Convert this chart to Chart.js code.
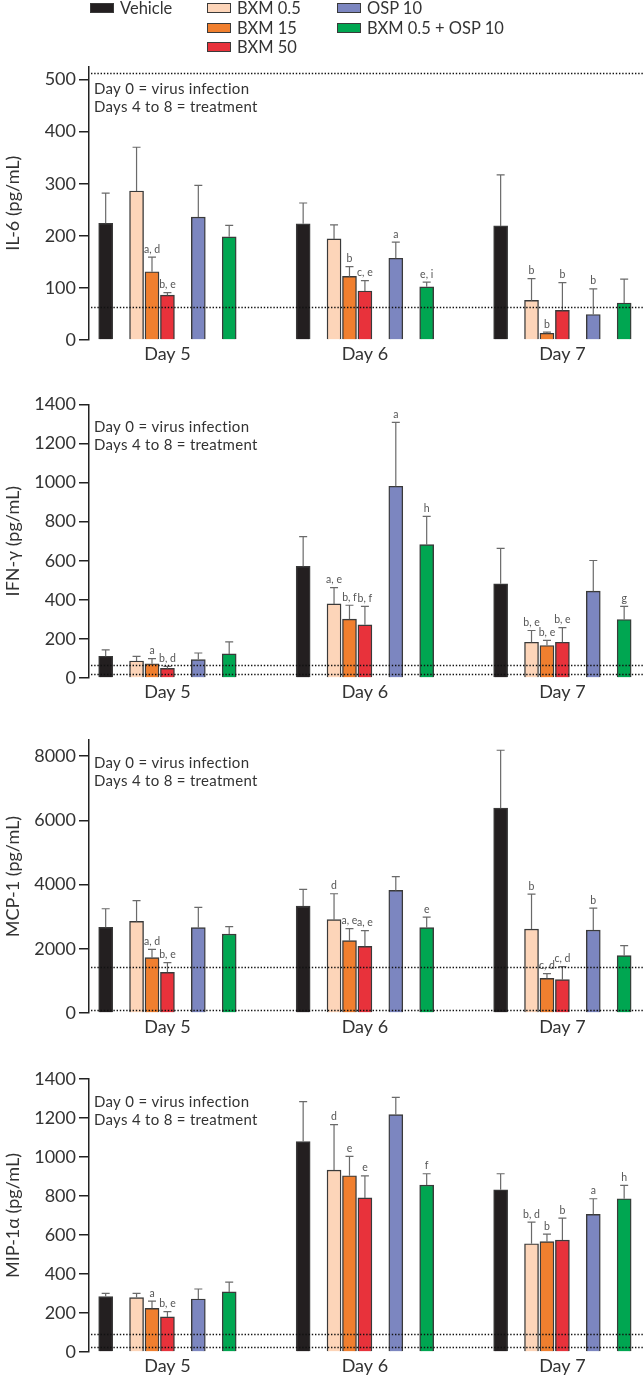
<!DOCTYPE html>
<html>
<head>
<meta charset="utf-8">
<script src="https://cdn.jsdelivr.net/npm/chart.js@4.4.1/dist/chart.umd.min.js"></script>
<style>
  html, body { margin: 0; padding: 0; background: #fff; }
  body { width: 644px; height: 1381px; position: relative; overflow: hidden; font-family: Lato, "Open Sans", sans-serif; }
  canvas.panel { position: absolute; left: 0; }
  #legend { position: absolute; left: 0; top: 0; width: 644px; height: 60px; z-index: 2; }
  .lg-item { position: absolute; height: 20px; display: flex; align-items: center; color: #333; font-size: 16.5px; white-space: nowrap; }
  .lg-box { width: 24px; height: 10px; box-sizing: border-box; border: 1.5px solid #3a3a3a; margin-right: 6px; }
</style>
</head>
<body>
<div id="legend"></div>
<canvas class="panel" id="p0" width="644" height="316" style="top:50px"></canvas>
<canvas class="panel" id="p1" width="644" height="320" style="top:384px"></canvas>
<canvas class="panel" id="p2" width="644" height="319" style="top:720px"></canvas>
<canvas class="panel" id="p3" width="644" height="319" style="top:1059px"></canvas>
<script>
// ---------------- DATA ----------------
const treatments = ['Vehicle', 'BXM 0.5', 'BXM 15', 'BXM 50', 'OSP 10', 'BXM 0.5 + OSP 10'];
const days = ['Day 5', 'Day 6', 'Day 7'];
const noteLines = ['Day 0 = virus infection', 'Days 4 to 8 = treatment'];

// rows = treatments, columns = days
const il6Mean = [[224, 223, 219], [286, 194, 76], [131, 122, 13], [86, 94, 57], [236, 157, 49], [198, 102, 71]];
const il6Err  = [[58, 40, 98], [84, 27, 42], [28, 19, 2], [5, 20, 53], [61, 31, 49], [22, 9, 46]];
const il6Sig  = [['', '', ''], ['', '', 'b'], ['a, d', 'b', 'b'], ['b, e', 'c, e', 'b'], ['', 'a', 'b'], ['', 'e, i', '']];
const il6Ref  = [512, 64];
const il6Ticks = [0, 100, 200, 300, 400, 500];

const ifnMean = [[111, 571, 482], [87, 379, 183], [73, 301, 166], [49, 272, 183], [94, 981, 444], [123, 682, 299]];
const ifnErr  = [[33, 152, 181], [24, 83, 60], [26, 71, 26], [10, 94, 75], [34, 327, 157], [62, 145, 67]];
const ifnSig  = [['', '', ''], ['', 'a, e', 'b, e'], ['a', 'b, f', 'b, e'], ['b, d', 'b, f', 'b, e'], ['', 'a', ''], ['', 'h', 'g']];
const ifnRef  = [68, 22];
const ifnTicks = [0, 200, 400, 600, 800, 1000, 1200, 1400];

const mcpMean = [[2666, 3328, 6377], [2852, 2905, 2613], [1723, 2252, 1079], [1266, 2075, 1038], [2656, 3816, 2582], [2457, 2656, 1785]];
const mcpErr  = [[580, 520, 1804], [644, 808, 1088], [258, 373, 146], [300, 487, 405], [632, 427, 684], [230, 330, 311]];
const mcpSig  = [['', '', ''], ['', 'd', 'b'], ['a, d', 'a, e', 'c, d'], ['b, e', 'a, e', 'c, d'], ['', '', 'b'], ['', 'e', '']];
const mcpRef  = [1430, 100];
const mcpTicks = [0, 2000, 4000, 6000, 8000];

const mipMean = [[284, 1079, 832], [279, 933, 555], [224, 904, 566], [180, 790, 574], [272, 1217, 706], [308, 856, 786]];
const mipErr  = [[17, 205, 82], [22, 233, 111], [37, 99, 38], [27, 113, 113], [51, 89, 80], [50, 58, 69]];
const mipSig  = [['', '', ''], ['', 'd', 'b, d'], ['a', 'e', 'b'], ['b, e', 'e', 'b'], ['', '', 'a'], ['', 'f', 'h']];
const mipRef  = [92, 27];
const mipTicks = [0, 200, 400, 600, 800, 1000, 1200, 1400];

// ---------------- STYLE / LAYOUT ----------------
const colors = ['#231f20', '#fdd5b9', '#f07f2f', '#e8323b', '#7c86c0', '#00a651'];
const slot = [0, 2, 3, 4, 6, 8];      // bar slot inside a day group
const groupStep = 12.79;              // distance between day groups (in slots)
const groupCenter = 4;
const FONT = 'Lato, "Open Sans", sans-serif';
const TXT = '#333';

// legend (HTML, built from the arrays)
const legendPos = [[90, 8], [207, 8], [207, 27.5], [207, 47], [337, 8], [337, 27.5]];
const lg = document.getElementById('legend');
treatments.forEach((t, i) => {
  const d = document.createElement('div');
  d.className = 'lg-item';
  d.style.left = legendPos[i][0] + 'px';
  d.style.top = (legendPos[i][1] - 10) + 'px';
  d.innerHTML = '<span class="lg-box" style="background:' + colors[i] + '"></span><span>' + t + '</span>';
  lg.appendChild(d);
});

const extras = {
  id: 'extras',
  afterDatasetsDraw(chart, args, o) {
    const { ctx, chartArea, scales: { y } } = chart;
    ctx.save();
    // error bars + significance letters
    chart.data.datasets.forEach((ds, i) => {
      const meta = chart.getDatasetMeta(i);
      meta.data.forEach((bar, j) => {
        const v = ds.data[j].y;
        const e = o.errs[i][j];
        const yBar = y.getPixelForValue(v);
        const yCap = y.getPixelForValue(v + e);
        if (e > 0) {
          ctx.strokeStyle = '#6a6a6a';
          ctx.lineWidth = 1.2;
          ctx.beginPath();
          ctx.moveTo(bar.x, yBar);
          ctx.lineTo(bar.x, yCap);
          ctx.moveTo(bar.x - 4, yCap);
          ctx.lineTo(bar.x + 4, yCap);
          ctx.stroke();
        }
        const s = o.sigs[i][j];
        if (s) {
          ctx.fillStyle = '#555';
          ctx.font = '10.5px ' + FONT;
          ctx.textAlign = 'center';
          ctx.textBaseline = 'alphabetic';
          ctx.fillText(s, bar.x, yCap - 4.5);
        }
      });
    });
    // dotted reference lines
    ctx.strokeStyle = '#111';
    ctx.lineWidth = 1.6;
    ctx.setLineDash([1.4, 1.8]);
    o.refs.forEach(r => {
      const py = Math.round(y.getPixelForValue(r)) + 0.5;
      ctx.beginPath();
      ctx.moveTo(chartArea.left + 2, py);
      ctx.lineTo(chart.width, py);
      ctx.stroke();
    });
    ctx.setLineDash([]);
    // note
    ctx.fillStyle = TXT;
    ctx.font = '15px ' + FONT;
    ctx.letterSpacing = '0.3px';
    ctx.textAlign = 'left';
    ctx.textBaseline = 'middle';
    noteLines.forEach((t, k) => ctx.fillText(t, chartArea.left + 5, chartArea.top + 23 + k * 18));
    ctx.restore();
  }
};

function makePanel(id, title, mean, errs, sigs, refs, ticks, yMax, padTop) {
  const datasets = treatments.map((name, i) => ({
    label: name,
    data: days.map((d, j) => ({ x: j * groupStep + slot[i], y: mean[i][j] })),
    backgroundColor: colors[i],
    borderColor: '#3a3a3a',
    borderWidth: 1.4,
    barThickness: 14,
    grouped: false
  }));
  return new Chart(document.getElementById(id), {
    type: 'bar',
    data: { datasets },
    plugins: [extras],
    options: {
      responsive: false,
      animation: false,
      events: [],
      layout: { padding: { top: padTop, left: 0, right: 1, bottom: 0 } },
      plugins: {
        legend: { display: false },
        tooltip: { enabled: false },
        extras: { errs, sigs, refs }
      },
      scales: {
        x: {
          type: 'linear',
          offset: false,
          min: -1.08,
          max: 34.8,
          grid: { display: false, drawTicks: false },
          border: { display: false },
          afterBuildTicks: s => { s.ticks = days.map((d, j) => ({ value: j * groupStep + groupCenter })); },
          afterFit: s => { s.height = 26; },
          ticks: {
            autoSkip: false, maxRotation: 0, padding: 3,
            color: TXT, font: { family: FONT, size: 18 },
            callback: (v, i) => days[i]
          }
        },
        y: {
          min: 0,
          max: yMax,
          afterBuildTicks: s => { s.ticks = ticks.map(v => ({ value: v })); },
          afterFit: s => { s.width = 89; },
          grid: { drawOnChartArea: false, drawTicks: true, tickLength: 10, color: '#222', lineWidth: 1.5 },
          border: { display: true, color: '#222', width: 1.5 },
          ticks: { padding: 3, color: TXT, font: { family: FONT, size: 18 }, callback: v => String(v) },
          title: { display: true, text: title, color: TXT, font: { family: FONT, size: 18 }, padding: { top: 2, bottom: 0 } }
        }
      }
    }
  });
}

makePanel('p0', 'IL-6 (pg/mL)', il6Mean, il6Err, il6Sig, il6Ref, il6Ticks, 525, 16.5);
makePanel('p1', 'IFN-γ (pg/mL)', ifnMean, ifnErr, ifnSig, ifnRef, ifnTicks, 1400, 20.3);
makePanel('p2', 'MCP-1 (pg/mL)', mcpMean, mcpErr, mcpSig, mcpRef, mcpTicks, 8500, 20);
makePanel('p3', 'MIP-1α (pg/mL)', mipMean, mipErr, mipSig, mipRef, mipTicks, 1400, 20);
</script>
</body>
</html>
